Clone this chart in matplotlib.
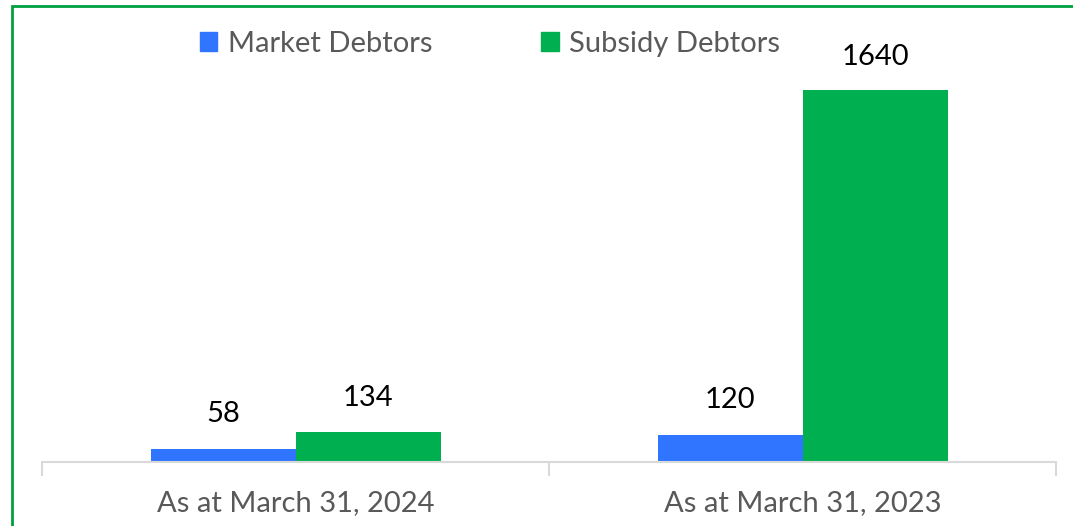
import matplotlib.pyplot as plt
from matplotlib.patches import Rectangle, Patch
import numpy as np

# data
categories = ['As at March 31, 2024', 'As at March 31, 2023']
market = [58, 120]
subsidy = [134, 1640]
series_names = ['Market Debtors', 'Subsidy Debtors']
colors = ['#2F75FF', '#00B050']

plt.rcParams['font.family'] = ['Lato', 'DejaVu Sans']

fig = plt.figure(figsize=(10.73, 5.26), dpi=100)
W, H = 1073, 526
ax = fig.add_axes([42 / W, 1 - 462 / H, (1056 - 42) / W, (462 - 60) / H])

x = np.arange(len(categories))
bw = 145 / 507
ax.bar(x - bw / 2, market, bw, color=colors[0], label=series_names[0])
ax.bar(x + bw / 2, subsidy, bw, color=colors[1], label=series_names[1])

# value labels above bars
for xi, v in zip(x, market):
    ax.annotate(str(v), (xi - bw / 2, v), xytext=(0, 25), textcoords='offset points',
                ha='center', va='center', fontsize=21, color='black')
for xi, v in zip(x, subsidy):
    ax.annotate(str(v), (xi + bw / 2, v), xytext=(0, 24), textcoords='offset points',
                ha='center', va='center', fontsize=21, color='black')

ax.set_xlim(-0.5, 1.5)
ax.set_ylim(0, 402 / (372 / 1640))
ax.set_yticks([])
for s in ['top', 'right', 'left']:
    ax.spines[s].set_visible(False)
ax.spines['bottom'].set_color('#D9D9D9')
ax.spines['bottom'].set_linewidth(1.5)

ax.set_xticks([-0.5, 0.5, 1.5], minor=False)
ax.set_xticklabels(['', '', ''])
ax.tick_params(axis='x', which='major', length=10, width=1.5, color='#D9D9D9')
ax.set_xticks(x, minor=True)
ax.set_xticklabels(categories, minor=True, fontsize=21, color='#595959')
ax.tick_params(axis='x', which='minor', length=0, pad=20)

handles = [Patch(color=c) for c in colors]
fig.legend(handles, series_names, loc='center', bbox_to_anchor=(490 / W, 1 - 44 / H),
           ncol=2, frameon=False, fontsize=21, labelcolor='#595959',
           handlelength=0.6, handleheight=0.6, handletextpad=0.35, columnspacing=3.75)

fig.patches.append(Rectangle((12 / W, -0.1), 1.2, 1 - 6 / H + 0.1 - 0.5 / H,
                             transform=fig.transFigure, fill=False,
                             edgecolor='#00A040', linewidth=2))

fig.savefig('out.png', dpi=100)
